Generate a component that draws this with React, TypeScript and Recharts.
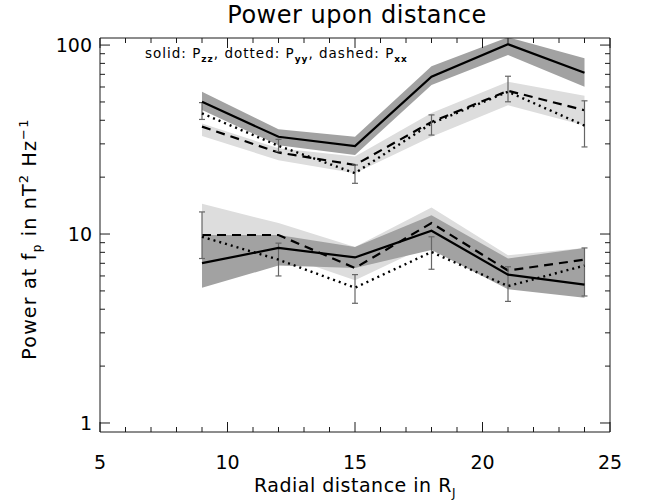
import { ComposedChart, Area, Line, XAxis, YAxis, ErrorBar } from 'recharts';

// radial distance (R_J)
const distance = [9, 12, 15, 18, 21, 24];

// upper set
const upZz = [50.1, 32.7, 29.2, 68.0, 101, 71.3];
const upZzLo = [45.3, 29.5, 26.2, 61.4, 88.6, 60.1];
const upZzHi = [56.6, 35.8, 32.7, 77.3, 110, 85.2];
const upYy = [43.5, 29.3, 21.0, 38.5, 56.6, 37.5];
const upYyErrLo = [40.4, 27.3, 18.55, 33.4, 50.1, 28.9];
const upYyErrHi = [49.6, 31.7, 23.2, 42.7, 68.4, 50.7];
const upXx = [37.0, 27.0, 23.2, 39.2, 57.3, 45.2];
const upXxLo = [33.0, 24.6, 21.0, 32.7, 48.1, 37.5];
const upXxHi = [38.5, 28.4, 25.7, 43.7, 63.9, 54.0];

// lower set
const loZz = [7.01, 8.44, 7.52, 10.4, 6.1, 5.4];
const loZzLo = [5.2, 6.81, 6.61, 8.24, 5.1, 4.6];
const loZzHi = [9.88, 9.88, 8.54, 12.57, 7.42, 8.44];
const loYy = [9.67, 7.32, 5.2, 8.03, 5.3, 6.81];
const loYyErrLo = [7.42, 6.0, 4.3, 6.51, 4.4, 4.7];
const loYyErrHi = [13.09, 8.95, 6.1, 9.67, 6.71, 8.44];
const loXx = [9.88, 9.88, 6.61, 11.43, 6.41, 7.32];
const loXxLo = [6.81, 7.83, 5.7, 8.85, 5.3, 6.31];
const loXxHi = [14.45, 11.43, 8.54, 13.82, 7.73, 8.44];

const xTicks = [5, 6, 7, 8, 9, 10, 11, 12, 13, 14, 15, 16, 17, 18, 19, 20, 21, 22, 23, 24, 25];
const xLabels = [5, 10, 15, 20, 25];
const yTicks = [1, 2, 3, 4, 5, 6, 7, 8, 9, 10, 20, 30, 40, 50, 60, 70, 80, 90, 100];
const yLabels = [1, 10, 100];
const yDomain = [0.896, 109];

const data = distance.map((d, i) => ({
  d,
  upZz: upZz[i],
  upZzBand: [upZzLo[i], upZzHi[i]],
  upYy: upYy[i],
  upYyErr: [upYy[i] - upYyErrLo[i], upYyErrHi[i] - upYy[i]],
  upXx: upXx[i],
  upXxBand: [upXxLo[i], upXxHi[i]],
  loZz: loZz[i],
  loZzBand: [loZzLo[i], loZzHi[i]],
  loYy: loYy[i],
  loYyErr: [loYy[i] - loYyErrLo[i], loYyErrHi[i] - loYy[i]],
  loXx: loXx[i],
  loXxBand: [loXxLo[i], loXxHi[i]],
}));

const FONT = '"DejaVu Sans", "Liberation Sans", Arial, sans-serif';
const INK = '#1a1a1a';
const DARK = '#a2a2a2';
const LIGHT = '#dddddd';

const BottomTick = ({ x, y, payload }: any) => {
  const major = xLabels.includes(payload.value);
  return (
    <g>
      <line x1={x} x2={x} y1={y} y2={y - (major ? 10 : 5)} stroke={INK} />
      {major && (
        <text x={x} y={y + 37} textAnchor="middle" fontSize={19} fontFamily={FONT} fill="#000">
          {payload.value}
        </text>
      )}
    </g>
  );
};

const TopTick = ({ x, y, payload }: any) => {
  const major = xLabels.includes(payload.value);
  return <line x1={x} x2={x} y1={y} y2={y + (major ? 10 : 5)} stroke={INK} />;
};

const LeftTick = ({ x, y, payload }: any) => {
  const major = yLabels.includes(payload.value);
  return (
    <g>
      <line x1={x} x2={x + (major ? 10 : 5)} y1={y} y2={y} stroke={INK} />
      {major && (
        <text x={x - 8} y={y + 7} textAnchor="end" fontSize={19} fontFamily={FONT} fill="#000">
          {payload.value}
        </text>
      )}
    </g>
  );
};

const RightTick = ({ x, y, payload }: any) => {
  const major = yLabels.includes(payload.value);
  return <line x1={x} x2={x - (major ? 10 : 5)} y1={y} y2={y} stroke={INK} />;
};

const band = (key: string, fill: string) => (
  <Area
    key={key}
    dataKey={key}
    type="linear"
    stroke="none"
    fill={fill}
    fillOpacity={1}
    isAnimationActive={false}
    activeDot={false}
  />
);

const sub = { fontSize: 9, fontWeight: 'bold' as const };

export default function App() {
  return (
    <div style={{ position: 'absolute', left: 0, top: 0, width: 670, height: 504, background: '#fff', fontFamily: FONT }}>
      <ComposedChart width={670} height={504} data={data} margin={{ top: 30, right: 50, bottom: 32, left: 40 }}>
        <XAxis
          dataKey="d"
          type="number"
          domain={[5, 25]}
          ticks={xTicks}
          interval={0}
          allowDataOverflow
          height={40}
          tickSize={0}
          tickMargin={0}
          tick={<BottomTick />}
          axisLine={{ stroke: INK }}
        />
        <XAxis
          xAxisId="top"
          orientation="top"
          dataKey="d"
          type="number"
          domain={[5, 25]}
          ticks={xTicks}
          interval={0}
          allowDataOverflow
          height={8}
          tickSize={0}
          tickMargin={0}
          tick={<TopTick />}
          axisLine={{ stroke: INK }}
        />
        <YAxis
          scale="log"
          type="number"
          domain={yDomain}
          ticks={yTicks}
          interval={0}
          allowDataOverflow
          width={60}
          tickSize={0}
          tickMargin={0}
          tick={<LeftTick />}
          axisLine={{ stroke: INK }}
        />
        <YAxis
          yAxisId="r"
          orientation="right"
          scale="log"
          type="number"
          domain={yDomain}
          ticks={yTicks}
          interval={0}
          allowDataOverflow
          width={10}
          tickSize={0}
          tickMargin={0}
          tick={<RightTick />}
          axisLine={{ stroke: INK }}
        />
        {band('upXxBand', LIGHT)}
        {band('loXxBand', LIGHT)}
        {band('upZzBand', DARK)}
        {band('loZzBand', DARK)}
        <Line dataKey="upXx" type="linear" stroke="#000" strokeWidth={2.2} strokeDasharray="9 6" dot={false} isAnimationActive={false} />
        <Line dataKey="loXx" type="linear" stroke="#000" strokeWidth={2.2} strokeDasharray="9 6" dot={false} isAnimationActive={false} />
        <Line dataKey="upYy" type="linear" stroke="#000" strokeWidth={2.4} strokeDasharray="2 4" dot={false} isAnimationActive={false}>
          <ErrorBar dataKey="upYyErr" width={3} stroke="#666" strokeWidth={1.2} direction="y" />
        </Line>
        <Line dataKey="loYy" type="linear" stroke="#000" strokeWidth={2.4} strokeDasharray="2 4" dot={false} isAnimationActive={false}>
          <ErrorBar dataKey="loYyErr" width={3} stroke="#666" strokeWidth={1.2} direction="y" />
        </Line>
        <Line dataKey="upZz" type="linear" stroke="#000" strokeWidth={2.2} dot={false} isAnimationActive={false} />
        <Line dataKey="loZz" type="linear" stroke="#000" strokeWidth={2.2} dot={false} isAnimationActive={false} />
      </ComposedChart>

      <div style={{ position: 'absolute', left: 357, top: 1, transform: 'translateX(-50%)', fontSize: 24, letterSpacing: 0.5, whiteSpace: 'nowrap' }}>
        Power upon distance
      </div>
      <div style={{ position: 'absolute', left: 145, top: 45, fontSize: 13.5, letterSpacing: 1, whiteSpace: 'nowrap' }}>
        solid: P<sub style={sub}>zz</sub>, dotted: P<sub style={sub}>yy</sub>, dashed: P<sub style={sub}>xx</sub>
      </div>
      <div style={{ position: 'absolute', left: 355, top: 474, transform: 'translateX(-50%)', fontSize: 19, letterSpacing: 0.5, whiteSpace: 'nowrap' }}>
        Radial distance in R<sub style={{ fontSize: 12 }}>J</sub>
      </div>
      <div
        style={{
          position: 'absolute',
          left: 30,
          top: 239,
          transform: 'translate(-50%, -50%) rotate(-90deg)',
          fontSize: 19,
          letterSpacing: 1.2,
          whiteSpace: 'nowrap',
        }}
      >
        Power at f<sub style={{ fontSize: 12 }}>p</sub> in nT<sup style={{ fontSize: 13 }}>2</sup> Hz<sup style={{ fontSize: 13 }}>−1</sup>
      </div>
    </div>
  );
}
